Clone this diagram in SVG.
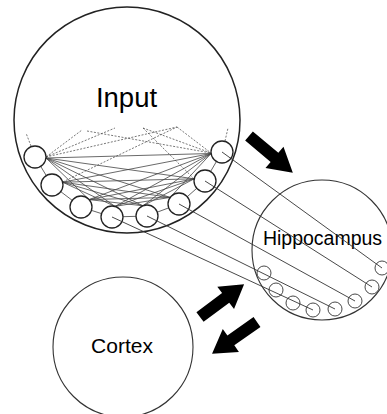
<svg xmlns="http://www.w3.org/2000/svg" xmlns:xlink="http://www.w3.org/1999/xlink" width="387" height="414" viewBox="0 0 387 414">
<style>
.big{fill:none;stroke:#222;stroke-width:1.5}
.reg{fill:none;stroke:#333;stroke-width:1.1}
.unit{fill:#fff;stroke:#222;stroke-width:1.3}
.hunit{fill:none;stroke:#333;stroke-width:0.9}
.mesh{stroke:#444;stroke-width:0.8;fill:none}
.ring{stroke:#555;stroke-width:0.9;fill:none}
.dash{stroke:#555;stroke-width:0.8;stroke-dasharray:2 1.5;fill:none}
.proj{stroke:#333;stroke-width:0.9;fill:none}
.lbl{font-family:"Liberation Sans",Arial,sans-serif;fill:#000;text-anchor:middle}
</style>
<defs>
<path id="arrow" d="M0,-6 L32,-6 L32,-14 L55,0 L32,14 L32,6 L0,6 Z" fill="#000"/>
</defs>

<g id="input">
<circle class="big" cx="127" cy="120" r="113"/>
<text class="lbl" x="126.5" y="107" font-size="27.5">Input</text>
</g>

<g id="hippocampus">
<circle class="reg" cx="322" cy="250" r="70"/>
<text class="lbl" x="322.5" y="245" font-size="19.5">Hippocampus</text>
</g>

<g id="cortex">
<circle class="reg" cx="123" cy="347" r="70"/>
<text class="lbl" x="122" y="353" font-size="21">Cortex</text>
</g>

<g id="connectors">
<!-- dashed recurrent stubs -->
<line class="dash" x1="31" y1="146" x2="26" y2="133"/>
<line class="dash" x1="225" y1="141" x2="228" y2="128"/>
<line class="dash" x1="46" y1="157" x2="82" y2="130"/>
<line class="dash" x1="46" y1="157" x2="115" y2="128"/>
<line class="dash" x1="46" y1="157" x2="177" y2="127"/>
<line class="dash" x1="87" y1="131" x2="211" y2="153"/>
<line class="dash" x1="143" y1="128" x2="211" y2="153"/>
<line class="dash" x1="177" y1="127" x2="211" y2="153"/>
<line class="dash" x1="62.6" y1="182" x2="177" y2="127"/>
<line class="dash" x1="143" y1="128" x2="194" y2="178.8"/>
<!-- ring between adjacent units -->
<polyline class="ring" points="35,157 52,185 81,207 112,217 147,216 179,204 205,181 222,152"/>
<!-- mesh among units -->
<g class="mesh">
<line x1="46" y1="158" x2="115" y2="206.4"/>
<line x1="46" y1="158" x2="143" y2="205.8"/>
<line x1="46" y1="158" x2="170.2" y2="197.4"/>
<line x1="46" y1="158" x2="194.2" y2="178.8"/>
<line x1="46" y1="158" x2="211.1" y2="153.5"/>
<line x1="46" y1="158" x2="89.1" y2="199.6"/>
<line x1="62.6" y1="182.2" x2="115" y2="206.4"/>
<line x1="62.6" y1="182.2" x2="143" y2="205.8"/>
<line x1="62.6" y1="182.2" x2="170.2" y2="197.4"/>
<line x1="62.6" y1="182.2" x2="194.2" y2="178.8"/>
<line x1="62.6" y1="182.2" x2="211.1" y2="153.5"/>
<line x1="89.1" y1="199.6" x2="143" y2="205.8"/>
<line x1="89.1" y1="199.6" x2="170.2" y2="197.4"/>
<line x1="89.1" y1="199.6" x2="194.2" y2="178.8"/>
<line x1="89.1" y1="199.6" x2="211.1" y2="153.5"/>
<line x1="115" y1="206.4" x2="170.2" y2="197.4"/>
<line x1="115" y1="206.4" x2="194.2" y2="178.8"/>
<line x1="115" y1="206.4" x2="211.1" y2="153.5"/>
<line x1="143" y1="205.8" x2="194.2" y2="178.8"/>
<line x1="143" y1="205.8" x2="211.1" y2="153.5"/>
<line x1="170.2" y1="197.4" x2="211.1" y2="153.5"/>
</g>
<!-- block arrows -->
<use href="#arrow" transform="translate(249,136) rotate(40) scale(1.04,1)"/>
<use href="#arrow" transform="translate(200,317) rotate(-36.7)"/>
<use href="#arrow" transform="translate(257,322) rotate(144.8)"/>
</g>

<g id="input-units">
<circle class="unit" cx="35" cy="157" r="11"/>
<circle class="unit" cx="52" cy="185" r="11"/>
<circle class="unit" cx="81" cy="207" r="11"/>
<circle class="unit" cx="112" cy="217" r="11"/>
<circle class="unit" cx="147" cy="216" r="11"/>
<circle class="unit" cx="179" cy="204" r="11"/>
<circle class="unit" cx="205" cy="181" r="11"/>
<circle class="unit" cx="222" cy="152" r="11"/>
</g>

<g id="hippocampus-units">
<circle class="hunit" cx="264" cy="273" r="7"/>
<circle class="hunit" cx="276" cy="290" r="7"/>
<circle class="hunit" cx="293" cy="303" r="7"/>
<circle class="hunit" cx="313" cy="310" r="7"/>
<circle class="hunit" cx="335" cy="309" r="7"/>
<circle class="hunit" cx="355" cy="301" r="7"/>
<circle class="hunit" cx="372" cy="287" r="7"/>
<circle class="hunit" cx="382" cy="268" r="7"/>
</g>

<g id="projections">
<line class="proj" x1="112" y1="217" x2="313" y2="310"/>
<line class="proj" x1="147" y1="216" x2="335" y2="309"/>
<line class="proj" x1="179" y1="204" x2="355" y2="301"/>
<line class="proj" x1="205" y1="181" x2="372" y2="287"/>
<line class="proj" x1="222" y1="152" x2="382" y2="268"/>
</g>
</svg>
